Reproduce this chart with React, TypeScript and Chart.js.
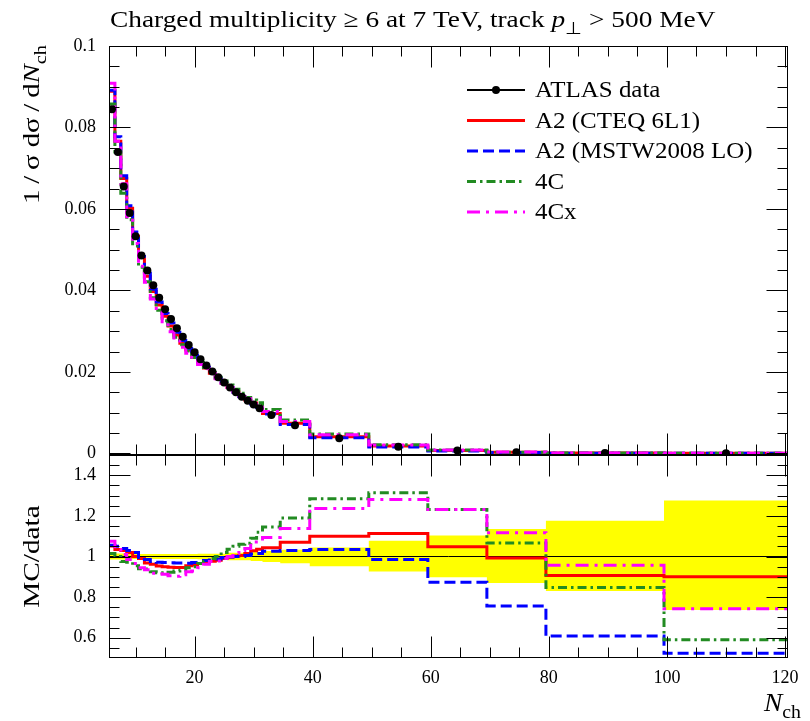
import React, { useEffect, useRef } from "react";
import { Chart, registerables } from "chart.js";
Chart.register(...registerables);

// ---------- data ----------
const binEdges = [
  5.5, 6.5, 7.5, 8.5, 9.5, 10.5, 11.5, 12.5, 13.5, 14.5, 15.5, 16.5, 17.5, 18.5,
  19.5, 20.5, 21.5, 22.5, 23.5, 24.5, 25.5, 26.5, 27.5, 28.5, 29.5, 30.5, 31.5,
  34.5, 39.5, 49.5, 59.5, 69.5, 79.5, 99.5, 120.5,
];
const atlasData = [
  0.0845, 0.074, 0.0655, 0.059, 0.0533, 0.0486, 0.0449, 0.0413, 0.0382, 0.0354,
  0.033, 0.0307, 0.0286, 0.0266, 0.0248, 0.0231, 0.0216, 0.0201, 0.0187, 0.0174,
  0.0162, 0.015, 0.0139, 0.0129, 0.012, 0.0111, 0.0094, 0.0069, 0.0037, 0.0016,
  0.00068, 0.00028, 0.00008, 0.000012,
];
const ratioA2CTEQ = [
  1.052, 1.035, 1.03, 1.02, 1.0, 0.99, 0.968, 0.962, 0.953, 0.95, 0.947, 0.946,
  0.946, 0.955, 0.958, 0.965, 0.97, 0.977, 0.982, 0.99, 0.998, 1.003, 1.005,
  1.015, 1.028, 1.036, 1.043, 1.07, 1.1, 1.113, 1.048, 0.992, 0.906, 0.9,
];
const ratioA2MSTW = [
  1.055, 1.05, 1.04, 1.03, 1.02, 0.995, 0.985, 0.975, 0.972, 0.97, 0.969, 0.968,
  0.968, 0.967, 0.97, 0.972, 0.98, 0.983, 0.988, 0.995, 0.998, 1.0, 1.0, 1.005,
  1.012, 1.015, 1.026, 1.03, 1.035, 0.985, 0.873, 0.756, 0.608, 0.524,
];
const ratio4C = [
  1.015, 1.0, 0.975, 0.972, 0.955, 0.94, 0.938, 0.925, 0.92, 0.919, 0.922, 0.928,
  0.932, 0.945, 0.95, 0.965, 0.975, 0.99, 1.0, 1.02, 1.036, 1.05, 1.06, 1.065,
  1.09, 1.12, 1.145, 1.19, 1.284, 1.314, 1.232, 1.067, 0.847, 0.59,
];
const ratio4Cx = [
  1.075, 1.035, 1.01, 0.985, 0.966, 0.945, 0.935, 0.918, 0.915, 0.913, 0.905,
  0.903, 0.91, 0.925, 0.928, 0.945, 0.962, 0.975, 0.978, 0.99, 1.0, 1.015, 1.03,
  1.04, 1.072, 1.072, 1.094, 1.138, 1.237, 1.281, 1.232, 1.117, 0.957, 0.743,
];
const bandHigh = [
  1.015, 1.015, 1.015, 1.015, 1.012, 1.012, 1.012, 1.012, 1.012, 1.012, 1.012,
  1.012, 1.012, 1.012, 1.012, 1.014, 1.014, 1.014, 1.014, 1.014, 1.018, 1.018,
  1.018, 1.018, 1.022, 1.022, 1.027, 1.033, 1.044, 1.077, 1.104, 1.135, 1.176,
  1.276,
];
const bandLow = [
  0.985, 0.985, 0.985, 0.985, 0.988, 0.988, 0.988, 0.988, 0.988, 0.988, 0.988,
  0.988, 0.988, 0.988, 0.988, 0.986, 0.986, 0.986, 0.986, 0.986, 0.982, 0.982,
  0.982, 0.982, 0.978, 0.978, 0.973, 0.967, 0.952, 0.926, 0.898, 0.87, 0.83,
  0.736,
];
const xTicks = [20, 40, 60, 80, 100, 120];
const yMainTicks = [0, 0.02, 0.04, 0.06, 0.08, 0.1];
const yRatioTicks = [0.6, 0.8, 1, 1.2, 1.4];
const legendLabels = ["ATLAS data", "A2 (CTEQ 6L1)", "A2 (MSTW2008 LO)", "4C", "4Cx"];

// ---------- styles ----------
const FONT = '"Liberation Serif", "Times New Roman", serif';
const RED = "#ff0000";
const BLUE = "#0000ff";
const GREEN = "#228b22";
const MAGENTA = "#ff00ff";
const YELLOW = "#ffff00";
const DASH_BLUE = [11, 5];
const DASH_GREEN = [9, 4, 2.5, 4];
const DASH_MAGENTA = [13, 6, 3, 6];
const LW = 3;

// ---------- helpers ----------
const last = binEdges.length - 1;
function histPoints(vals: number[]) {
  const pts = vals.map((v, i) => ({ x: binEdges[i], y: v }));
  pts.push({ x: binEdges[last], y: vals[vals.length - 1] });
  return pts;
}
const mcMain = (ratio: number[]) => atlasData.map((d, i) => d * ratio[i]);

type Seg = { t: string; it?: boolean; sub?: boolean };
function segFont(s: Seg, size: number) {
  return `${s.it ? "italic " : ""}${s.sub ? Math.round(size * 0.72) : size}px ${FONT}`;
}
function drawRich(
  ctx: CanvasRenderingContext2D,
  segs: Seg[],
  x: number,
  y: number,
  size: number,
  align: "left" | "right" | "center",
  stretch = 1
) {
  ctx.textAlign = "left";
  const widths = segs.map((s) => {
    ctx.font = segFont(s, size);
    return ctx.measureText(s.t).width;
  });
  const total = widths.reduce((a, b) => a + b, 0) * stretch;
  const x0 = align === "left" ? x : align === "right" ? x - total : x - total / 2;
  ctx.save();
  ctx.translate(x0, y);
  ctx.scale(stretch, 1);
  let cx = 0;
  segs.forEach((s, i) => {
    ctx.font = segFont(s, size);
    ctx.fillText(s.t, cx, s.sub ? size * 0.28 : 0);
    cx += widths[i];
  });
  ctx.restore();
}

const framePlugin = {
  id: "rivetFrame",
  afterDatasetsDraw(chart: any) {
    const ctx: CanvasRenderingContext2D = chart.ctx;
    const xs = chart.scales.x;
    const panels = [
      { s: chart.scales.y, minor: 0.005, major: 0.02, lo: 0, hi: 0.1 },
      { s: chart.scales.yr, minor: 0.05, major: 0.2, lo: 0.55, hi: 1.45 },
    ];
    const left = Math.round(xs.left) + 0.5;
    const right = Math.round(xs.right) - 0.5;
    ctx.save();
    ctx.strokeStyle = "#000";
    ctx.lineWidth = 1;
    ctx.setLineDash([]);
    for (const p of panels) {
      const top = Math.round(p.s.top) + 0.5;
      const bottom = Math.round(p.s.bottom) - 0.5;
      ctx.strokeRect(left, top, right - left, bottom - top);
      ctx.beginPath();
      for (let v = 10; v <= 120.001; v += 5) {
        const px = Math.round(xs.getPixelForValue(v)) + 0.5;
        const len = Math.abs(v % 20) < 1e-6 ? 21 : 10;
        ctx.moveTo(px, top);
        ctx.lineTo(px, top + len);
        ctx.moveTo(px, bottom);
        ctx.lineTo(px, bottom - len);
      }
      const n = Math.round((p.hi - p.lo) / p.minor);
      for (let k = 0; k <= n; k++) {
        const v = p.lo + k * p.minor;
        const py = Math.round(p.s.getPixelForValue(v)) + 0.5;
        const r = v / p.major;
        const len = Math.abs(r - Math.round(r)) < 1e-6 ? 21 : 10;
        ctx.moveTo(left, py);
        ctx.lineTo(left + len, py);
        ctx.moveTo(right, py);
        ctx.lineTo(right - len, py);
      }
      ctx.stroke();
    }
    ctx.restore();
  },
  afterDraw(chart: any) {
    const ctx: CanvasRenderingContext2D = chart.ctx;
    const yr = chart.scales.yr;
    ctx.save();
    ctx.fillStyle = "#000";
    ctx.textBaseline = "alphabetic";
    drawRich(
      ctx,
      [
        { t: "Charged multiplicity \u2265 6 at 7 TeV, track " },
        { t: "p", it: true },
        { t: "\u22A5", sub: true },
        { t: " > 500 MeV" },
      ],
      110,
      27,
      24,
      "left",
      1.14
    );
    ctx.save();
    ctx.translate(39, 45);
    ctx.rotate(-Math.PI / 2);
    drawRich(
      ctx,
      [{ t: "1\u2009/\u2009\u03C3 d\u03C3\u2009/\u2009d" }, { t: "N", it: true }, { t: "ch", sub: true }],
      0,
      0,
      24,
      "right",
      1.2
    );
    ctx.restore();
    ctx.save();
    ctx.translate(39, (yr.top + yr.bottom) / 2);
    ctx.rotate(-Math.PI / 2);
    drawRich(ctx, [{ t: "MC/data" }], 0, 0, 24, "center", 1.22);
    ctx.restore();
    drawRich(ctx, [{ t: "N", it: true }, { t: "ch", sub: true }], 801, 711, 25, "right", 1.1);

    // legend
    const styles = [
      { c: "#000", d: [] as number[], w: 2 },
      { c: RED, d: [], w: LW },
      { c: BLUE, d: DASH_BLUE, w: LW },
      { c: GREEN, d: DASH_GREEN, w: LW },
      { c: MAGENTA, d: DASH_MAGENTA, w: LW },
    ];
    legendLabels.forEach((lab, i) => {
      const y = 90 + i * 30.5;
      const st = styles[i];
      ctx.save();
      ctx.strokeStyle = st.c;
      ctx.lineWidth = st.w;
      ctx.setLineDash(st.d);
      ctx.beginPath();
      ctx.moveTo(467, y);
      ctx.lineTo(525, y);
      ctx.stroke();
      if (i === 0) {
        ctx.fillStyle = "#000";
        ctx.beginPath();
        ctx.arc(496, y, 4, 0, Math.PI * 2);
        ctx.fill();
      }
      ctx.restore();
      drawRich(ctx, [{ t: lab }], 535, y + 7, 23, "left", 1.085);
    });
    ctx.restore();
  },
};

export default function App() {
  const ref = useRef<HTMLCanvasElement | null>(null);
  useEffect(() => {
    if (!ref.current) return;
    const binCenters = atlasData.map((_, i) => (binEdges[i] + binEdges[i + 1]) / 2);
    const line = (data: any, color: string, dash: number[], axis: string) => ({
      data,
      yAxisID: axis,
      borderColor: color,
      borderWidth: LW,
      borderDash: dash,
      stepped: "before" as const,
      pointRadius: 0,
      fill: false,
      showLine: true,
      borderCapStyle: "butt" as const,
    });
    const unity = [
      { x: binEdges[0], y: 1 },
      { x: binEdges[last], y: 1 },
    ];
    const tickFont = { family: FONT, size: 18 };
    const chart = new Chart(ref.current, {
      type: "line",
      data: {
        datasets: [
          {
            data: atlasData.map((v, i) => ({ x: binCenters[i], y: v })),
            yAxisID: "y",
            showLine: false,
            pointRadius: 4,
            pointBorderWidth: 0,
            pointBackgroundColor: "#000",
            borderColor: "#000",
          } as any,
          line(histPoints(mcMain(ratio4Cx)), MAGENTA, DASH_MAGENTA, "y"),
          line(histPoints(mcMain(ratio4C)), GREEN, DASH_GREEN, "y"),
          line(histPoints(mcMain(ratioA2MSTW)), BLUE, DASH_BLUE, "y"),
          line(histPoints(mcMain(ratioA2CTEQ)), RED, [], "y"),
          line(histPoints(ratio4Cx), MAGENTA, DASH_MAGENTA, "yr"),
          line(histPoints(ratio4C), GREEN, DASH_GREEN, "yr"),
          line(histPoints(ratioA2MSTW), BLUE, DASH_BLUE, "yr"),
          line(histPoints(ratioA2CTEQ), RED, [], "yr"),
          { ...line(unity, "#000", [], "yr"), borderWidth: 1, stepped: false },
          {
            data: histPoints(bandHigh),
            yAxisID: "yr",
            stepped: "before",
            borderWidth: 0,
            pointRadius: 0,
            backgroundColor: YELLOW,
            fill: "+1",
          } as any,
          {
            data: histPoints(bandLow),
            yAxisID: "yr",
            stepped: "before",
            borderWidth: 0,
            pointRadius: 0,
            backgroundColor: YELLOW,
            fill: false,
          } as any,
        ],
      },
      options: {
        animation: false,
        responsive: false,
        maintainAspectRatio: false,
        layout: { padding: { top: 46, right: 22, left: 0, bottom: 0 } },
        plugins: { legend: { display: false }, tooltip: { enabled: false }, title: { display: false } },
        scales: {
          x: {
            type: "linear",
            min: binEdges[0],
            max: binEdges[last],
            position: "bottom",
            afterBuildTicks: (s: any) => {
              s.ticks = xTicks.map((v) => ({ value: v }));
            },
            afterFit: (s: any) => {
              s.height = 63;
            },
            grid: { display: false, drawTicks: false },
            border: { display: false },
            ticks: { color: "#000", font: tickFont, padding: 9, maxRotation: 0, autoSkip: false },
          },
          yr: {
            type: "linear",
            position: "left",
            stack: "panels",
            stackWeight: 203,
            min: 0.5,
            max: 1.5,
            afterBuildTicks: (s: any) => {
              s.ticks = yRatioTicks.map((v) => ({ value: v }));
            },
            afterFit: (s: any) => {
              s.width = 109;
            },
            grid: { display: false, drawTicks: false },
            border: { display: false },
            ticks: {
              color: "#000",
              font: tickFont,
              padding: 13,
              autoSkip: false,
              callback: (v: any) => `${+Number(v).toFixed(3)}`,
            },
          },
          y: {
            type: "linear",
            position: "left",
            stack: "panels",
            stackWeight: 409,
            min: -0.0004,
            max: 0.1,
            afterBuildTicks: (s: any) => {
              s.ticks = yMainTicks.map((v) => ({ value: v }));
            },
            afterFit: (s: any) => {
              s.width = 109;
            },
            grid: { display: false, drawTicks: false },
            border: { display: false },
            ticks: {
              color: "#000",
              font: tickFont,
              padding: 13,
              autoSkip: false,
              callback: (v: any) => `${+Number(v).toFixed(3)}`,
            },
          },
        } as any,
      },
      plugins: [framePlugin],
    });
    return () => chart.destroy();
  }, []);
  return (
    <div style={{ position: "absolute", left: 0, top: 0, width: 810, height: 721, background: "#fff" }}>
      <canvas ref={ref} width={810} height={721} style={{ width: 810, height: 721, display: "block" }} />
    </div>
  );
}
